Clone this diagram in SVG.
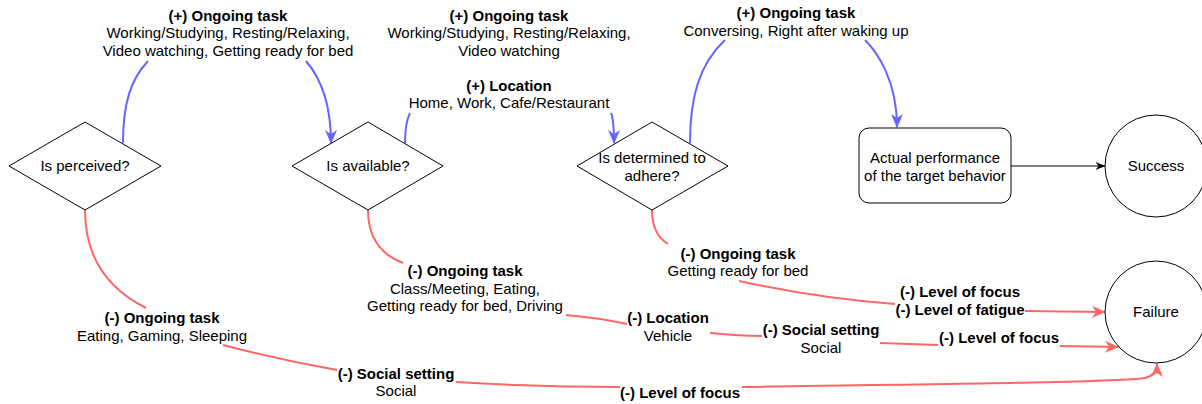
<svg xmlns="http://www.w3.org/2000/svg" width="1202" height="404" viewBox="0 0 1202 404">
<style>
text{font-family:"Liberation Sans",Arial,sans-serif;font-size:15px;fill:#000;text-anchor:middle}
.b{font-weight:bold}
.shape{fill:#fff;stroke:#000;stroke-width:1}
.pos{fill:none;stroke:#6666FF;stroke-width:2}
.neg{fill:none;stroke:#FF6666;stroke-width:2}
.blk{fill:none;stroke:#000;stroke-width:1}
</style>
<defs>
<marker id="ab" viewBox="0 0 14 12" refX="13" refY="6" markerWidth="14" markerHeight="12" markerUnits="userSpaceOnUse" orient="auto"><path d="M0,0 L14,6 L0,12 L4,6 Z" fill="#6666FF"/></marker>
<marker id="ar" viewBox="0 0 14 12" refX="13" refY="6" markerWidth="14" markerHeight="12" markerUnits="userSpaceOnUse" orient="auto"><path d="M0,0 L14,6 L0,12 L4,6 Z" fill="#FF6666"/></marker>
<marker id="ak" viewBox="0 0 10 8" refX="9.5" refY="4" markerWidth="10" markerHeight="8" markerUnits="userSpaceOnUse" orient="auto"><path d="M0,0 L10,4 L0,8 L3,4 Z" fill="#000"/></marker>
</defs>
<g id="connectors">
<path class="pos" d="M123,143 C123,105 130,80 148,61"/>
<path class="pos" d="M306,61 C318,75 331,100 331,143" marker-end="url(#ab)"/>
<path class="pos" d="M405,143 C405,128 407,119 410,113"/>
<path class="pos" d="M611,113 C614,120 614,130 614,143" marker-end="url(#ab)"/>
<path class="pos" d="M690,143 C690,100 698,65 725,40"/>
<path class="pos" d="M865,40 C877,52 897,80 897,127" marker-end="url(#ab)"/>
<path class="blk" d="M1011,166 L1105,166" marker-end="url(#ak)"/>
<path class="neg" d="M85,210 C85,260 110,290 146,308"/>
<path class="neg" d="M223,345 Q280,360 337,370"/>
<path class="neg" d="M456,382 Q540,387 620,387"/>
<path class="neg" d="M742,387 C950,384 1120,382 1145,378 Q1157,375 1157,364" marker-end="url(#ar)"/>
<path class="neg" d="M368,210 C368,238 382,255 403,263"/>
<path class="neg" d="M566,315 Q600,318 627,324"/>
<path class="neg" d="M710,333 Q740,336 762,336"/>
<path class="neg" d="M880,343 L938,345"/>
<path class="neg" d="M1060,346 L1118,347" marker-end="url(#ar)"/>
<path class="neg" d="M652,210 C652,228 658,238 668,244"/>
<path class="neg" d="M739,281 C780,290 840,300 895,304"/>
<path class="neg" d="M1025,311 L1105,312" marker-end="url(#ar)"/>
<text x="228" y="21" class="b">(+) Ongoing task</text>
<text x="228" y="38">Working/Studying, Resting/Relaxing,</text>
<text x="228" y="56">Video watching, Getting ready for bed</text>
<text x="509" y="21" class="b">(+) Ongoing task</text>
<text x="509" y="38">Working/Studying, Resting/Relaxing,</text>
<text x="509" y="56">Video watching</text>
<text x="509" y="91" class="b">(+) Location</text>
<text x="509" y="108">Home, Work, Cafe/Restaurant</text>
<text x="796" y="18" class="b">(+) Ongoing task</text>
<text x="796" y="36">Conversing, Right after waking up</text>
<text x="162" y="323" class="b">(-) Ongoing task</text>
<text x="162" y="341">Eating, Gaming, Sleeping</text>
<text x="396" y="379" class="b">(-) Social setting</text>
<text x="396" y="396">Social</text>
<text x="680" y="398" class="b">(-) Level of focus</text>
<text x="465" y="276" class="b">(-) Ongoing task</text>
<text x="465" y="294">Class/Meeting, Eating,</text>
<text x="465" y="311">Getting ready for bed, Driving</text>
<text x="668" y="323" class="b">(-) Location</text>
<text x="668" y="341">Vehicle</text>
<text x="821" y="335" class="b">(-) Social setting</text>
<text x="821" y="353">Social</text>
<text x="999" y="343" class="b">(-) Level of focus</text>
<text x="738" y="259" class="b">(-) Ongoing task</text>
<text x="738" y="276">Getting ready for bed</text>
<text x="960" y="297" class="b">(-) Level of focus</text>
<text x="960" y="315" class="b">(-) Level of fatigue</text>
</g>
<g id="perceived">
<path class="shape" d="M85,122 L161,166 L85,210 L9,166 Z"/>
<text x="85" y="171">Is perceived?</text>
</g>
<g id="available">
<path class="shape" d="M368,122 L443,166 L368,210 L292,166 Z"/>
<text x="368" y="171">Is available?</text>
</g>
<g id="determined">
<path class="shape" d="M652,122 L728,166 L652,210 L577,166 Z"/>
<text x="652" y="163">Is determined to</text>
<text x="652" y="181">adhere?</text>
</g>
<g id="performance">
<rect class="shape" x="859" y="128" width="152" height="75" rx="10" ry="10"/>
<text x="935" y="163">Actual performance</text>
<text x="935" y="181">of the target behavior</text>
</g>
<g id="success">
<circle class="shape" cx="1156" cy="166" r="51"/>
<text x="1156" y="171">Success</text>
</g>
<g id="failure">
<circle class="shape" cx="1156" cy="312" r="51"/>
<text x="1156" y="317">Failure</text>
</g>
</svg>
